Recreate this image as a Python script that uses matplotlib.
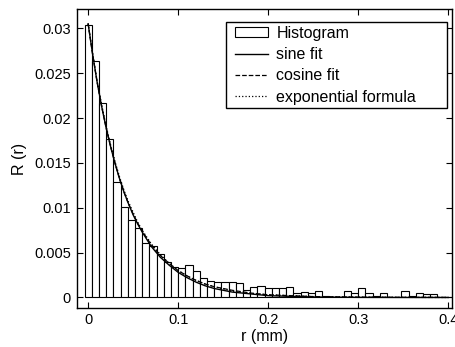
import matplotlib
matplotlib.use('Agg')
import matplotlib.pyplot as plt
from matplotlib.patches import Rectangle
from matplotlib.ticker import FuncFormatter

plt.rcParams['font.family'] = ['Liberation Sans', 'DejaVu Sans']

# histogram bin centres (mm) and heights
bin_width = 0.008
r_bins = [k * bin_width for k in range(51)]
hist_vals = [0.0304, 0.0263, 0.0217, 0.0177, 0.0129, 0.0101, 0.0086, 0.0077,
             0.0061, 0.0057, 0.0048, 0.0039, 0.0034, 0.0033, 0.0036, 0.0029,
             0.0022, 0.0018, 0.0017, 0.0017, 0.0017, 0.0016, 0.0008, 0.0012,
             0.0013, 0.0010, 0.0010, 0.0010, 0.0012, 0.00055, 0.0006, 0.00045,
             0.0007, 0.00015, 0.00003, 0.00003, 0.0007, 0.0005, 0.0010, 0.00045,
             0.0002, 0.0005, 0.0001, 0.0001, 0.0007, 0.0002, 0.0005, 0.0004,
             0.0004, 0.00005, 0.0001]

# fitted curves
r_fit = [0, 0.005, 0.01, 0.015, 0.02, 0.025, 0.03, 0.035, 0.04, 0.045, 0.05,
         0.055, 0.06, 0.07, 0.08, 0.09, 0.10, 0.11, 0.12, 0.13, 0.14, 0.16,
         0.18, 0.20, 0.25, 0.30, 0.35, 0.40]
sine_fit = [0.0305, 0.0271, 0.0240, 0.0213, 0.0189, 0.0168, 0.0149, 0.0132,
            0.0117, 0.0104, 0.0092, 0.0082, 0.0073, 0.0057, 0.0045, 0.0036,
            0.0028, 0.0022, 0.0017, 0.0013, 0.0010, 0.0006, 0.0004, 0.0002,
            0.00005, 0.00001, 0.0, 0.0]
cosine_fit = [0.0305, 0.0271, 0.0240, 0.0213, 0.0189, 0.0168, 0.0149, 0.0132,
              0.0117, 0.0104, 0.0093, 0.0083, 0.0074, 0.0059, 0.0047, 0.0038,
              0.0030, 0.0024, 0.0019, 0.0015, 0.0012, 0.0008, 0.0005, 0.0003,
              0.0001, 0.00003, 0.00001, 0.0]
exp_formula = [0.0305, 0.0272, 0.0241, 0.0215, 0.0191, 0.0170, 0.0151, 0.0134,
               0.0119, 0.0106, 0.0095, 0.0084, 0.0075, 0.0060, 0.0048, 0.0038,
               0.0030, 0.0024, 0.0019, 0.0015, 0.0012, 0.0007, 0.00046, 0.0003,
               0.0001, 0.00003, 0.00001, 0.0]

labels = ['Histogram', 'sine fit', 'cosine fit', 'exponential formula']
x_ticks = [0, 0.1, 0.2, 0.3, 0.4]
y_ticks = [0, 0.005, 0.01, 0.015, 0.02, 0.025, 0.03]

fig = plt.figure(figsize=(4.56, 3.47), dpi=100)
ax = fig.add_axes([0.168, 0.1133, 0.8226, 0.86])

bars = ax.bar(r_bins, hist_vals, width=bin_width, facecolor='white',
              edgecolor='black', linewidth=0.8)
l1, = ax.plot(r_fit, sine_fit, '-', color='black', linewidth=1.0)
l2, = ax.plot(r_fit, cosine_fit, '--', color='black', linewidth=0.9)
l3, = ax.plot(r_fit, exp_formula, ':', color='black', linewidth=0.9)

ax.set_xlim(-0.0128, 0.4039)
ax.set_ylim(-0.00114, 0.03212)
ax.set_xticks(x_ticks)
ax.set_yticks(y_ticks)
fmt = FuncFormatter(lambda v, p: ('%g' % v))
ax.xaxis.set_major_formatter(fmt)
ax.yaxis.set_major_formatter(fmt)
ax.tick_params(direction='in', top=True, right=True, length=4, width=0.8,
               labelsize=10.5, pad=4)
for s in ax.spines.values():
    s.set_linewidth(1.0)

ax.set_xlabel('r (mm)', fontsize=11.5, labelpad=1)
ax.set_ylabel('R (r)', fontsize=11.5, labelpad=5)

# matlab style legend box, wider than its contents
frame = Rectangle((0.398, 0.669), 0.589, 0.288, transform=ax.transAxes,
                  facecolor='white', edgecolor='black', linewidth=1.0,
                  zorder=5)
ax.add_patch(frame)
leg = ax.legend([bars, l1, l2, l3], labels,
                loc='upper left', bbox_to_anchor=(0.422, 0.945),
                borderaxespad=0, frameon=False, fontsize=11.5,
                handlelength=2.1, handletextpad=0.5, handleheight=0.6,
                labelspacing=0.4, borderpad=0)
leg.set_zorder(6)

fig.savefig('out.png', dpi=100)
